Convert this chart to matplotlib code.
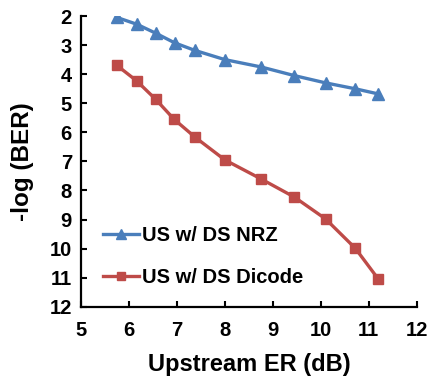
import matplotlib
matplotlib.use("Agg")
import matplotlib.pyplot as plt

plt.rcParams['font.family'] = ['Liberation Sans', 'DejaVu Sans']
plt.rcParams['font.weight'] = 'bold'

er_nrz = [5.75, 6.16, 6.57, 6.95, 7.37, 8.0, 8.75, 9.45, 10.1, 10.71, 11.2]
ber_nrz = [2.05, 2.28, 2.6, 2.92, 3.18, 3.5, 3.75, 4.05, 4.3, 4.5, 4.68]
er_dicode = [5.75, 6.16, 6.56, 6.94, 7.38, 8.0, 8.75, 9.45, 10.1, 10.72, 11.2]
ber_dicode = [3.7, 4.23, 4.87, 5.55, 6.17, 6.95, 7.6, 8.23, 8.98, 9.99, 11.05]
xticks = [5, 6, 7, 8, 9, 10, 11, 12]
yticks = [2, 3, 4, 5, 6, 7, 8, 9, 10, 11, 12]

fig = plt.figure(figsize=(4.29, 3.78), dpi=100)
ax = fig.add_axes([0.1888, 0.1886, 0.7825, 0.769])

blue = '#4A7EBB'
red = '#BE4B48'
ax.plot(er_nrz, ber_nrz, color=blue, lw=2.4, marker='^', markersize=9,
        label='US w/ DS NRZ')
ax.plot(er_dicode, ber_dicode, color=red, lw=2.4, marker='s', markersize=7.5,
        label='US w/ DS Dicode')

ax.set_xlim(5, 12)
ax.set_ylim(12, 2)
ax.set_xticks(xticks)
ax.set_yticks(yticks)
for s in ['top', 'right']:
    ax.spines[s].set_visible(False)
for s in ['left', 'bottom']:
    ax.spines[s].set_linewidth(1.6)
ax.tick_params(axis='both', direction='in', width=1.5, length=4.5, labelsize=14.5)
ax.tick_params(axis='x', pad=10.5)
ax.tick_params(axis='y', pad=6.5)
for lab in ax.get_xticklabels() + ax.get_yticklabels():
    lab.set_fontweight('bold')

ax.set_xlabel('Upstream ER (dB)', fontsize=17, fontweight='bold', labelpad=9)
ax.set_ylabel('-log (BER)', fontsize=17.5, fontweight='bold', labelpad=11)

leg = ax.legend(loc='lower left', bbox_to_anchor=(0.025, 0.018), frameon=False,
                fontsize=14.5, handlelength=1.75, handletextpad=0.15,
                labelspacing=1.18, borderaxespad=0.3, markerscale=0.75)
for t in leg.get_texts():
    t.set_fontweight('bold')

fig.savefig('out.png', dpi=100)
